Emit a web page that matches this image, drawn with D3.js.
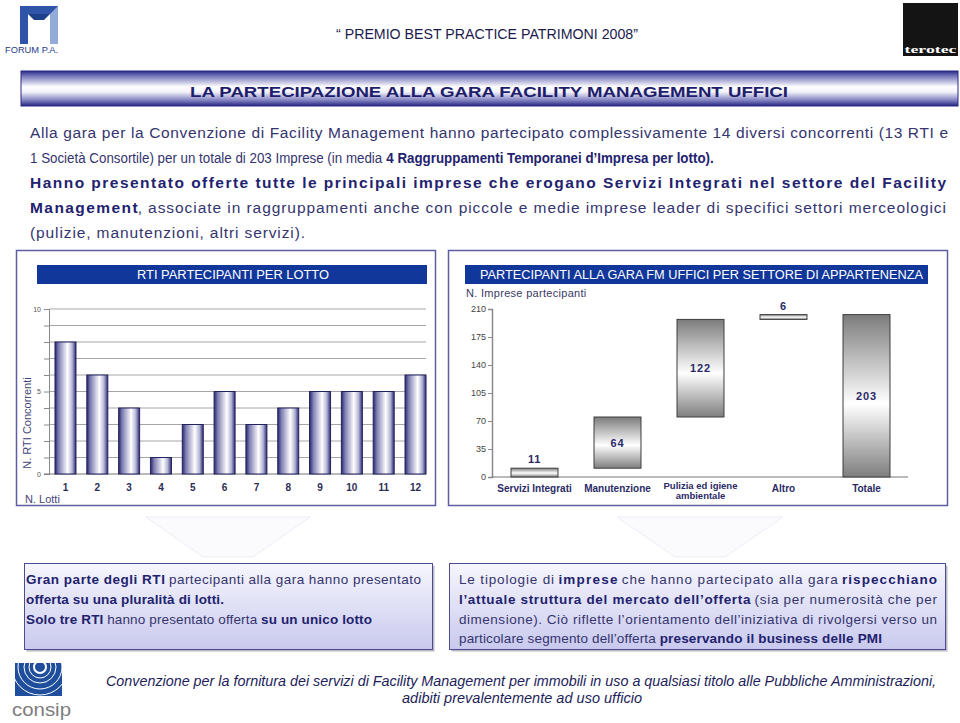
<!DOCTYPE html>
<html>
<head>
<meta charset="utf-8">
<script src="https://cdn.jsdelivr.net/npm/d3@7/dist/d3.min.js"></script>
<style>
html,body{margin:0;padding:0;background:#fff;}
svg{display:block;}
</style>
</head>
<body>
<svg id="chart" width="960" height="723"></svg>
<script>
// ---------- DATA ----------
const lotti = ["1","2","3","4","5","6","7","8","9","10","11","12"];
const rtiConcorrenti = [8,6,4,1,3,5,3,4,5,5,5,6];
const rtiTicks = [0,5,10];
const rtiGrid = [0,1,2,3,4,5,6,7,8,9,10];

const settori = ["Servizi Integrati","Manutenzione","Pulizia ed igiene ambientale","Altro","Totale"];
const settoriLabel = [["Servizi Integrati"],["Manutenzione"],["Pulizia ed igiene","ambientale"],["Altro"],["Totale"]];
const impreseValori = [11,64,122,6,203];
const impreseTicks = [0,35,70,105,140,175,210];

// ---------- SETUP ----------
const svg = d3.select("#chart");
const defs = svg.append("defs");
const NARROW = "'Liberation Sans',Arial,sans-serif";
const SANS = "'Liberation Sans',Arial,sans-serif";
const TXT = "#34346e", BOLD = "#22226e";

function grad(id, x2, y2, stops){
  const g = defs.append("linearGradient").attr("id",id).attr("x1",0).attr("y1",0).attr("x2",x2).attr("y2",y2);
  stops.forEach(s=>g.append("stop").attr("offset",s[0]).attr("stop-color",s[1]));
}
grad("bandGrad",0,1,[[0,"#26268a"],[0.12,"#6a6ab4"],[0.45,"#ffffff"],[0.6,"#f2f2fa"],[0.85,"#7a7abc"],[1,"#22227e"]]);
grad("barL",1,0,[[0,"#28286e"],[0.18,"#8080b4"],[0.6,"#ffffff"],[0.82,"#b4b4d6"],[1,"#2a2a72"]]);
grad("barR",0,1,[[0,"#7c7c7c"],[0.55,"#ffffff"],[1,"#7e7e7e"]]);
grad("boxGrad",0,1,[[0,"#f6f6fd"],[1,"#c9c9ee"]]);

// rich text line: parts laid out side by side; stretched (justified) or horizontally condensed to the reference width
function richLine(x, y, parts, size, width, family, style, color){
  const fam = family||NARROW;
  const g = svg.append("g");
  const probe = g.append("text").attr("font-family",fam).attr("font-size",size).attr("font-style",style||"normal")
    .attr("xml:space","preserve").style("white-space","pre").text("a a");
  const probe2 = g.append("text").attr("font-family",fam).attr("font-size",size).attr("font-style",style||"normal").text("aa");
  const spaceW = probe.node().getComputedTextLength()-probe2.node().getComputedTextLength();
  probe.remove(); probe2.remove();
  const items = parts.map(p=>{
    const lead = /^\s/.test(p[0]), trail = /\s$/.test(p[0]);
    const el = g.append("text").attr("y",0)
      .attr("font-family",fam).attr("font-size",size)
      .attr("font-style",style||"normal").attr("font-weight",p[1]?"bold":"normal")
      .attr("fill",color||(p[1]?BOLD:TXT)).text(p[0].trim());
    return {el, lead, trail, w: el.node().getComputedTextLength()};
  });
  let total = 0;
  items.forEach((it,i)=>{ if(it.lead && i>0) total+=spaceW; total+=it.w; if(it.trail && i<items.length-1) total+=spaceW; });
  let k = width ? width/total : 1;
  const condense = k < 1;
  const sx = condense ? k : 1;   // horizontal condensing via transform
  const kk = condense ? 1 : k;   // stretching via textLength
  let cx = 0;
  items.forEach((it,i)=>{
    if(it.lead && i>0) cx += spaceW*kk;
    it.el.attr("x",cx);
    if(width && !condense) it.el.attr("textLength",it.w*kk).attr("lengthAdjust","spacing");
    cx += it.w*kk;
    if(it.trail && i<items.length-1) cx += spaceW*kk;
  });
  g.attr("transform",`translate(${x},${y}) scale(${sx},1)`);
}

// ---------- HEADER ----------
const fp = svg.append("g");
fp.append("path").attr("d","M20,6 L58,6 L58,44 L50,44 L50,14 L28,14 L28,44 L20,44 Z").attr("fill","#2f55a8");
fp.append("path").attr("d","M50,14 L58,6 L58,44 L50,44 Z").attr("fill","#93abd9");
fp.append("path").attr("d","M28,14 L50,14 L44,20 L34,20 Z").attr("fill","#1e3f8a");
fp.append("text").attr("x",5).attr("y",53).attr("font-family",SANS).attr("font-size",9)
  .attr("fill","#1f3c86").attr("textLength",53).attr("lengthAdjust","spacingAndGlyphs").text("FORUM P.A.");

svg.append("rect").attr("x",903).attr("y",3).attr("width",55).attr("height",53).attr("fill","#141414");
svg.append("text").attr("x",930.5).attr("y",53).attr("text-anchor","middle").attr("font-family","'Liberation Serif',serif")
  .attr("font-weight","bold").attr("font-size",11).attr("fill","#fff").attr("textLength",52).attr("lengthAdjust","spacingAndGlyphs").text("terotec");

svg.append("text").attr("x",336).attr("y",39).attr("font-family",SANS).attr("font-size",14.5)
  .attr("fill","#1b1b4e").attr("textLength",302).attr("lengthAdjust","spacingAndGlyphs")
  .text("\u201C PREMIO BEST PRACTICE PATRIMONI 2008\u201D");

svg.append("rect").attr("x",21).attr("y",71).attr("width",937).attr("height",35)
  .attr("fill","url(#bandGrad)").attr("stroke","#2a2a86").attr("stroke-width",1);
svg.append("text").attr("x",190).attr("y",97).attr("font-family",SANS).attr("font-weight","bold")
  .attr("font-size",15).attr("fill","#1d1d6c").attr("textLength",598).attr("lengthAdjust","spacingAndGlyphs")
  .text("LA PARTECIPAZIONE ALLA GARA FACILITY MANAGEMENT UFFICI");

// ---------- INTRO PARAGRAPH ----------
richLine(30,138,[["Alla gara per la Convenzione di Facility Management hanno partecipato complessivamente 14 diversi concorrenti (13 RTI e",0]],15.5,918);
richLine(30,163,[["1 Società Consortile) per un totale di 203 Imprese (in media ",0],["4 Raggruppamenti Temporanei d\u2019Impresa per lotto).",1]],15.5,684);
richLine(30,188,[["Hanno presentato offerte tutte le principali imprese che erogano Servizi Integrati nel settore del Facility",1]],15.5,916);
richLine(30,213,[["Management",1],[", associate in raggruppamenti anche con piccole e medie imprese leader di specifici settori merceologici",0]],15.5,916);
richLine(30,238,[["(pulizie, manutenzioni, altri servizi).",0]],15.5,275);

// ---------- faint decorative arrows (mostly hidden) ----------
function arrow(x0,x1,y0){
  const xm=(x0+x1)/2;
  svg.append("path").attr("d",`M${x0},${y0} L${x1},${y0} L${xm+25},${y0+40} L${xm-25},${y0+40} Z`)
    .attr("fill","#fbfbfe").attr("stroke","#eceef6").attr("stroke-width",1);
}
arrow(146,310,517);
arrow(617,783,517);

// ---------- PANELS ----------
const FRAME = "#5e5ea2";
svg.append("rect").attr("x",16.5).attr("y",250.5).attr("width",419).attr("height",255).attr("fill","#fff").attr("stroke",FRAME).attr("stroke-width",1.5);
svg.append("rect").attr("x",448.5).attr("y",250.5).attr("width",499).attr("height",255).attr("fill","#fff").attr("stroke",FRAME).attr("stroke-width",1.5);

const HEAD = "#11379b";
svg.append("rect").attr("x",37).attr("y",265).attr("width",390).attr("height",19).attr("fill",HEAD);
svg.append("text").attr("x",137).attr("y",279).attr("font-family",SANS)
  .attr("font-size",12).attr("fill","#fff").attr("textLength",192).attr("lengthAdjust","spacingAndGlyphs").text("RTI PARTECIPANTI PER LOTTO");
svg.append("rect").attr("x",465).attr("y",265).attr("width",463).attr("height",19).attr("fill",HEAD);
svg.append("text").attr("x",480).attr("y",279).attr("font-family",SANS)
  .attr("font-size",12).attr("fill","#fff").attr("textLength",443).attr("lengthAdjust","spacingAndGlyphs")
  .text("PARTECIPANTI ALLA GARA FM UFFICI PER SETTORE DI APPARTENENZA");

// ---------- LEFT CHART ----------
const xL = d3.scaleBand().domain(lotti).range([49,432]).paddingInner(0.34).paddingOuter(0.188);
const yL = d3.scaleLinear().domain([0,10]).range([474,309]);
const gL = svg.append("g");
gL.selectAll("line.grid").data(rtiGrid.filter(d=>d>0)).join("line").attr("class","grid")
  .attr("x1",49).attr("x2",426).attr("y1",d=>yL(d)).attr("y2",d=>yL(d))
  .attr("stroke","#a6a6a6").attr("stroke-width",1);
const axL = d3.axisLeft(yL).tickValues(rtiGrid).tickSize(5).tickFormat(d=>rtiTicks.includes(d)?d:"");
const gAxL = gL.append("g").attr("transform","translate(49,0)").call(axL);
gAxL.select(".domain").attr("stroke","#8a8a8a");
gAxL.selectAll(".tick line").attr("stroke","#8a8a8a");
gAxL.selectAll(".tick text").attr("font-family",SANS).attr("font-size",7).attr("fill","#555").attr("x",-8);
gL.append("line").attr("x1",44).attr("x2",426).attr("y1",yL(0)).attr("y2",yL(0)).attr("stroke","#777");
gL.selectAll("rect.bar").data(rtiConcorrenti).join("rect").attr("class","bar")
  .attr("x",(d,i)=>xL(lotti[i])).attr("width",xL.bandwidth())
  .attr("y",d=>yL(d)).attr("height",d=>yL(0)-yL(d))
  .attr("fill","url(#barL)").attr("stroke","#23235e").attr("stroke-width",1);
gL.selectAll("text.xl").data(lotti).join("text").attr("class","xl")
  .attr("x",d=>xL(d)+xL.bandwidth()/2).attr("y",491).attr("text-anchor","middle")
  .attr("font-family",SANS).attr("font-weight","bold").attr("font-size",10).attr("fill","#2c2c54").text(d=>d);
gL.append("text").attr("transform","translate(31,423) rotate(-90)").attr("text-anchor","middle")
  .attr("font-family",SANS).attr("font-size",11).attr("fill","#46467a").text("N. RTI Concorrenti");
gL.append("text").attr("x",25).attr("y",503).attr("font-family",SANS).attr("font-size",11)
  .attr("fill","#46467a").text("N. Lotti");

// ---------- RIGHT CHART (waterfall) ----------
const xR = d3.scaleBand().domain(settori).range([493,908]).paddingInner(0.434).paddingOuter(0.217);
const yR = d3.scaleLinear().domain([0,210]).range([477,309]);
const gR = svg.append("g");
const axR = d3.axisLeft(yR).tickValues(impreseTicks).tickSize(4);
const gAxR = gR.append("g").attr("transform","translate(492,0)").call(axR);
gAxR.select(".domain").attr("stroke","#8a8a8a").attr("stroke-width",1.5);
gAxR.selectAll(".tick line").attr("stroke","#8a8a8a");
gAxR.selectAll(".tick text").attr("font-family",SANS).attr("font-size",9).attr("fill","#444").attr("x",-6);
gR.append("line").attr("x1",492).attr("x2",908).attr("y1",yR(0)).attr("y2",yR(0)).attr("stroke","#777").attr("stroke-width",1.2);

let cum = 0;
const wf = impreseValori.map((v,i)=>{
  let s,e;
  if(i===impreseValori.length-1){ s=0; e=v; } else { s=cum; e=cum+v; cum=e; }
  return {cat:settori[i], v, s, e};
});
gR.selectAll("rect.wf").data(wf).join("rect").attr("class","wf")
  .attr("x",d=>xR(d.cat)).attr("width",xR.bandwidth())
  .attr("y",d=>yR(d.e)).attr("height",d=>yR(d.s)-yR(d.e))
  .attr("fill","url(#barR)").attr("stroke","#3e3e3e").attr("stroke-width",1);
gR.selectAll("text.val").data(wf).join("text").attr("class","val")
  .attr("x",d=>xR(d.cat)+xR.bandwidth()/2)
  .attr("y",d=>d.v<20 ? yR(d.e)-5 : (yR(d.s)+yR(d.e))/2+4)
  .attr("text-anchor","middle").attr("font-family",SANS).attr("font-weight","bold")
  .attr("font-size",11).attr("fill","#2a2a6a").attr("letter-spacing",0.8).text(d=>d.v);
settoriLabel.forEach((lines,i)=>{
  lines.forEach((ln,j)=>{
    gR.append("text").attr("x",xR(settori[i])+xR.bandwidth()/2).attr("y",(lines.length>1?489:492)+j*10)
      .attr("text-anchor","middle").attr("font-family",SANS).attr("font-weight","bold")
      .attr("font-size",lines.length>1?9.5:10).attr("fill","#2a2a66").text(ln);
  });
});
gR.append("text").attr("x",466).attr("y",297).attr("font-family",SANS).attr("font-size",11)
  .attr("fill","#3a3a66").attr("letter-spacing",0.3).text("N. Imprese partecipanti");

// ---------- BOTTOM BOXES ----------
function box(x,y,w,h){
  svg.append("rect").attr("x",x+2).attr("y",y+2).attr("width",w).attr("height",h).attr("fill","#b8b8c8");
  svg.append("rect").attr("x",x).attr("y",y).attr("width",w).attr("height",h)
    .attr("fill","url(#boxGrad)").attr("stroke","#4c4c8e").attr("stroke-width",1);
}
box(24.5,563.5,408,86);
box(449.5,563.5,496,86);
richLine(26,584,[["Gran parte degli RTI",1],[" partecipanti alla gara hanno presentato",0]],13.5,395);
richLine(26,604,[["offerta su una pluralità di lotti.",1]],13.5,198);
richLine(26,624,[["Solo tre RTI",1],[" hanno presentato offerta ",0],["su un unico lotto",1]],13.5,346);
richLine(459,584,[["Le tipologie di ",0],["imprese",1],[" che hanno partecipato alla gara ",0],["rispecchiano",1]],13.5,478);
richLine(459,604,[["l\u2019attuale struttura del mercato dell\u2019offerta",1],[" (sia per numerosità che per",0]],13.5,478);
richLine(459,624,[["dimensione). Ciò riflette l\u2019orientamento dell\u2019iniziativa di rivolgersi verso un",0]],13.5,478);
richLine(459,643,[["particolare segmento dell\u2019offerta ",0],["preservando il business delle PMI",1]],13.5,423);

// ---------- FOOTER ----------
defs.append("clipPath").attr("id","consipClip").append("rect").attr("x",15).attr("y",663).attr("width",47).attr("height",33);
const cg = svg.append("g");
cg.append("rect").attr("x",15).attr("y",663).attr("width",47).attr("height",33).attr("fill","#1f4f9c");
[6,11,16,22,28].forEach(r=>{
  cg.append("circle").attr("cx",40).attr("cy",667).attr("r",r).attr("fill","none").attr("stroke","#fff")
    .attr("stroke-width",r<8?2:1).attr("clip-path","url(#consipClip)");
});
cg.append("text").attr("x",12).attr("y",716).attr("font-family",SANS).attr("font-size",19)
  .attr("fill","#7d7d7d").attr("textLength",59).attr("lengthAdjust","spacingAndGlyphs").text("consip");

richLine(106,686,[["Convenzione per la fornitura dei servizi di Facility Management per immobili in uso a qualsiasi titolo alle Pubbliche Amministrazioni,",0]],14.5,831,NARROW,"italic","#1d1d5a");
richLine(402,703,[["adibiti prevalentemente ad uso ufficio",0]],14.5,240,NARROW,"italic","#1d1d5a");
</script>
</body>
</html>
